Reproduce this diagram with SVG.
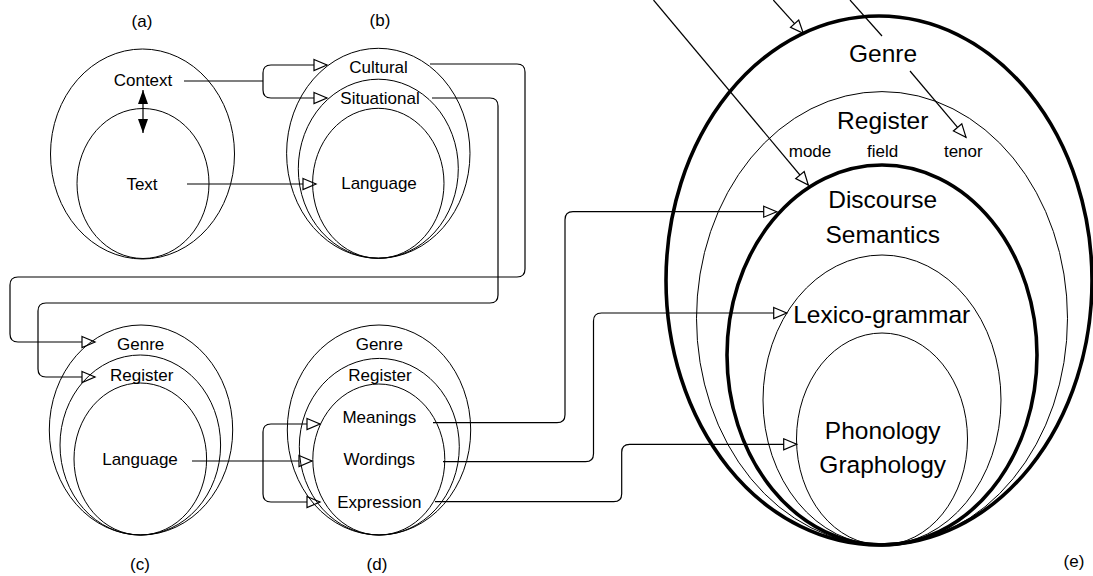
<svg xmlns="http://www.w3.org/2000/svg" width="1093" height="576" viewBox="0 0 1093 576">
<style>
  .e { fill: none; stroke: #000; stroke-width: 1; }
  .ek { fill: none; stroke: #000; stroke-width: 3.6; }
  .c { fill: none; stroke: #000; stroke-width: 1.2; marker-end: url(#oa); }
  .cn { fill: none; stroke: #000; stroke-width: 1.2; }
  text { font-family: "Liberation Sans", Arial, sans-serif; font-size: 17px; fill: #000; text-anchor: middle; }
  .big { font-size: 24.5px; }
</style>
<defs>
  <marker id="oa" markerUnits="userSpaceOnUse" markerWidth="16" markerHeight="14" refX="13" refY="5.5" orient="auto" overflow="visible">
    <path d="M0,0 L13,5.5 L0,11 Z" fill="#fff" stroke="#000" stroke-width="1.2"/>
  </marker>
  <marker id="fa" markerUnits="userSpaceOnUse" markerWidth="16" markerHeight="14" refX="14" refY="5" orient="auto-start-reverse" overflow="visible">
    <path d="M0,0 L14,5 L0,10 Z" fill="#000"/>
  </marker>
</defs>
<rect width="1093" height="576" fill="#fff"/>

<g id="connectors">
  <line x1="143" y1="90" x2="143" y2="133" stroke="#000" stroke-width="1.2" marker-start="url(#fa)" marker-end="url(#fa)"/>
  <path class="cn" d="M184,81 H263"/>
  <path class="c" d="M263,81 V73 Q263,65 271,65 H327"/>
  <path class="c" d="M263,81 V90 Q263,98 271,98 H327"/>
  <path class="c" d="M187,184 H316"/>
  <path class="c" d="M430,64 H517 Q525,64 525,72 V269 Q525,277 517,277 H18 Q10,277 10,285 V334 Q10,342 18,342 H95"/>
  <path class="c" d="M432,98 H490 Q498,98 498,106 V295 Q498,303 490,303 H46 Q38,303 38,311 V369 Q38,377 46,377 H95"/>
  <path class="c" d="M192,461 H312"/>
  <path class="c" d="M263,461 V432 Q263,424 271,424 H320"/>
  <path class="c" d="M263,461 V494 Q263,502 271,502 H320"/>
  <path class="c" d="M433,422.7 H557 Q565,422.7 565,414.7 V219.7 Q565,211.7 573,211.7 H776.7"/>
  <path class="c" d="M443,461.7 H585.5 Q593.5,461.7 593.5,453.7 V321 Q593.5,313 601.5,313 H786.7"/>
  <path class="c" d="M435,501.7 H613.7 Q621.7,501.7 621.7,493.7 V452.3 Q621.7,444.3 629.7,444.3 H796.7"/>
  <path class="c" d="M773.3,0 L803.3,33.3"/>
  <path class="c" d="M653.5,0 L808.3,185"/>
  <path class="cn" d="M850,0 L882,36"/>
  <path class="c" d="M910,71 L966,137.3"/>
</g>

<g id="label-a"><text x="142" y="27">(a)</text></g>
<g id="node-a">
  <ellipse class="e" cx="142.5" cy="154" rx="92" ry="105"/>
  <ellipse class="e" cx="143" cy="183.5" rx="66" ry="75"/>
  <text x="143" y="86">Context</text>
  <text x="142" y="190">Text</text>
</g>

<g id="label-b"><text x="380" y="26">(b)</text></g>
<g id="node-b">
  <ellipse class="e" cx="378.3" cy="153.3" rx="91.7" ry="105"/>
  <ellipse class="e" cx="378.3" cy="168.7" rx="80" ry="89.5"/>
  <ellipse class="e" cx="378.3" cy="183.3" rx="65.7" ry="75"/>
  <text x="378.5" y="72.5">Cultural</text>
  <text x="380" y="103.5">Situational</text>
  <text x="379" y="188.5">Language</text>
</g>

<g id="node-c">
  <ellipse class="e" cx="141" cy="430" rx="91.7" ry="105"/>
  <ellipse class="e" cx="140.3" cy="445" rx="80.3" ry="90"/>
  <ellipse class="e" cx="140.3" cy="459" rx="66.3" ry="76"/>
  <text x="140.7" y="350">Genre</text>
  <text x="141.7" y="380.7">Register</text>
  <text x="140" y="464.5">Language</text>
</g>
<g id="label-c"><text x="140" y="570">(c)</text></g>

<g id="node-d">
  <ellipse class="e" cx="379" cy="430" rx="91.7" ry="105"/>
  <ellipse class="e" cx="379.3" cy="446.7" rx="80" ry="88.3"/>
  <ellipse class="e" cx="378.8" cy="459.5" rx="66" ry="75.5"/>
  <text x="379.3" y="350">Genre</text>
  <text x="380" y="380.7">Register</text>
  <text x="379.3" y="422.7">Meanings</text>
  <text x="379.3" y="465">Wordings</text>
  <text x="379.3" y="508.3">Expression</text>
</g>
<g id="label-d"><text x="377" y="570">(d)</text></g>

<g id="node-e">
  <ellipse class="ek" cx="879" cy="280.5" rx="213" ry="264.5"/>
  <ellipse class="e" cx="882" cy="318.3" rx="185.5" ry="226.7"/>
  <ellipse class="ek" cx="882" cy="355" rx="155" ry="190"/>
  <ellipse class="e" cx="882" cy="400" rx="119" ry="145"/>
  <ellipse class="e" cx="882" cy="439" rx="85.5" ry="106"/>
  <text class="big" x="883" y="62">Genre</text>
  <text class="big" x="882.7" y="129.3">Register</text>
  <text x="810" y="156.7">mode</text>
  <text x="882.7" y="156.7">field</text>
  <text x="963.3" y="156.7">tenor</text>
  <text class="big" x="882.7" y="208.3">Discourse</text>
  <text class="big" x="882.7" y="243.3">Semantics</text>
  <text class="big" x="881.7" y="323.3">Lexico-grammar</text>
  <text class="big" x="882.7" y="439.3">Phonology</text>
  <text class="big" x="882.7" y="473.3">Graphology</text>
</g>
<g id="label-e"><text x="1074" y="566.7">(e)</text></g>
</svg>
